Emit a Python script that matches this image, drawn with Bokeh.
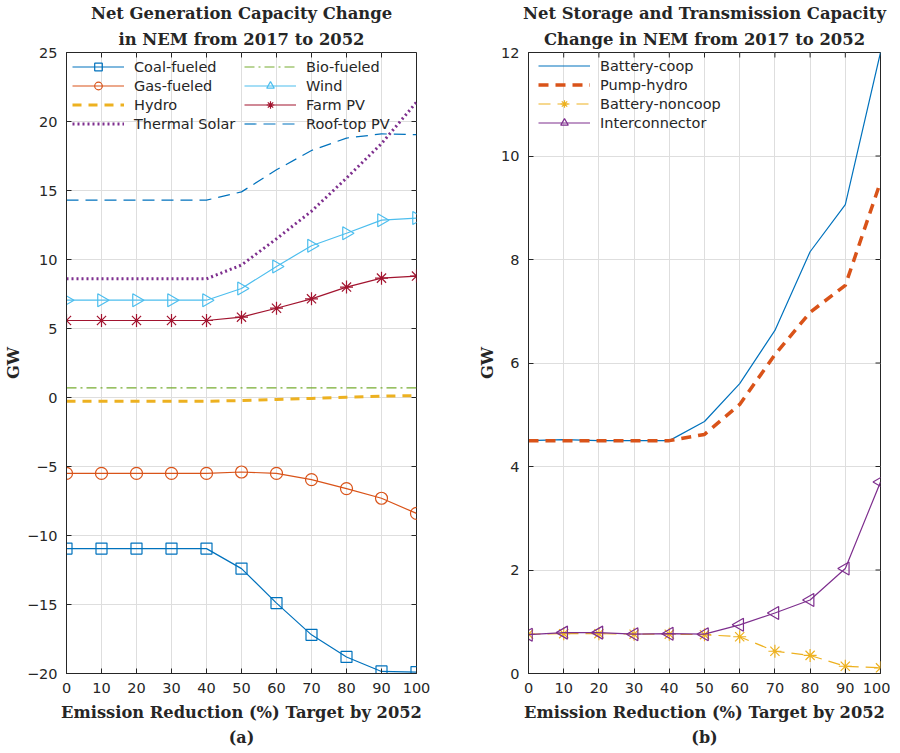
import numpy as np
from bokeh.plotting import figure
from bokeh.models import (Title, FixedTicker, Legend, LegendItem, Range1d)
from bokeh.layouts import row
from bokeh.embed import file_html
from bokeh.resources import INLINE

# ---------------- data ----------------
targets = [0, 10, 20, 30, 40, 50, 60, 70, 80, 90, 100]

coal = [-10.95, -10.95, -10.95, -10.95, -10.95, -12.4, -14.9, -17.2, -18.8, -19.85, -19.9]
gas = [-5.5, -5.5, -5.5, -5.5, -5.5, -5.4, -5.5, -5.95, -6.6, -7.3, -8.4]
hydro = [-0.27, -0.27, -0.27, -0.27, -0.27, -0.22, -0.14, -0.07, 0.02, 0.1, 0.14]
thermal_solar = [8.6, 8.6, 8.6, 8.6, 8.6, 9.6, 11.5, 13.5, 15.9, 18.4, 21.4]
bio = [0.7, 0.7, 0.7, 0.7, 0.7, 0.7, 0.7, 0.7, 0.7, 0.7, 0.7]
wind = [7.05, 7.05, 7.05, 7.05, 7.05, 7.9, 9.5, 11.0, 11.9, 12.85, 13.0]
farm_pv = [5.58, 5.58, 5.58, 5.58, 5.58, 5.82, 6.47, 7.15, 8.0, 8.65, 8.8]
rooftop_pv = [14.3, 14.3, 14.3, 14.3, 14.3, 14.9, 16.5, 17.9, 18.8, 19.1, 19.05]

battery_coop = [4.5, 4.52, 4.5, 4.5, 4.5, 4.87, 5.6, 6.63, 8.15, 9.06, 12.0]
pump_hydro = [4.5, 4.5, 4.5, 4.5, 4.5, 4.62, 5.2, 6.16, 6.98, 7.5, 9.5]
battery_noncoop = [0.76, 0.77, 0.77, 0.76, 0.76, 0.75, 0.71, 0.43, 0.35, 0.14, 0.11]
interconnector = [0.75, 0.79, 0.79, 0.76, 0.77, 0.76, 0.94, 1.17, 1.42, 2.03, 3.70]

x_ticks = [0, 10, 20, 30, 40, 50, 60, 70, 80, 90, 100]
y_ticks_a = [-20, -15, -10, -5, 0, 5, 10, 15, 20, 25]
y_ticks_b = [0, 2, 4, 6, 8, 10, 12]

AX = "#262626"
GRID = "#dedede"
SANS = "DejaVu Sans"
SERIF = "DejaVu Serif"

C_BLUE = "#0072BD"
C_ORANGE = "#D95319"
C_YELLOW = "#EDB120"
C_PURPLE = "#7E2F8E"
C_GREEN = "#77AC30"
C_CYAN = "#4DBEEE"
C_RED = "#A2142F"


def make_fig(fw, xr, yr, yticks, left_border, right_border, title1, title2, sub):
    p = figure(frame_width=fw, frame_height=621, x_range=Range1d(*xr),
               y_range=Range1d(*yr), output_backend="svg", toolbar_location=None,
               title=None, min_border_left=left_border, min_border_right=right_border,
               min_border_top=10, min_border_bottom=10, background_fill_color="white",
               border_fill_color="white")
    p.outline_line_color = AX
    p.outline_line_alpha = 1
    p.outline_line_width = 1
    for ax in [p.xaxis[0], p.yaxis[0]]:
        ax.major_tick_in = 5
        ax.major_tick_out = 0
        ax.minor_tick_in = 0
        ax.minor_tick_out = 0
        ax.axis_line_color = AX
        ax.major_tick_line_color = AX
        ax.major_label_text_color = AX
        ax.major_label_text_font = SANS
        ax.major_label_text_font_size = "14.5px"
        ax.axis_label_text_font = SERIF
        ax.axis_label_text_font_style = "bold"
        ax.axis_label_text_font_size = "16.3px"
        ax.axis_label_text_color = AX
    p.xaxis.ticker = FixedTicker(ticks=x_ticks)
    p.yaxis.ticker = FixedTicker(ticks=yticks)
    p.xaxis.major_label_standoff = 9
    p.yaxis.major_label_standoff = 9
    p.xaxis.axis_label = "Emission Reduction (%) Target by 2052"
    p.xaxis.axis_label_standoff = 7
    p.yaxis.axis_label = "GW"
    p.yaxis.axis_label_standoff = 1
    p.xgrid.ticker = FixedTicker(ticks=x_ticks)
    p.ygrid.ticker = FixedTicker(ticks=yticks)
    for g in [p.xgrid[0], p.ygrid[0]]:
        g.grid_line_color = GRID
        g.grid_line_width = 1
    # box ticks on the top and right edges (inward, no labels)
    p.ray(x=x_ticks, y=[yr[1]] * len(x_ticks), length=5, length_units="screen",
          angle=-np.pi / 2, line_color=AX, line_width=1)
    p.ray(x=[xr[1]] * len(yticks), y=yticks, length=5, length_units="screen",
          angle=np.pi, line_color=AX, line_width=1)
    t2 = Title(text=title2, align="center", text_font=SERIF, text_font_style="bold",
               text_font_size="16.4px", text_color=AX, standoff=8, offset=0)
    t1 = Title(text=title1, align="center", text_font=SERIF, text_font_style="bold",
               text_font_size="16.4px", text_color=AX, standoff=2, offset=0)
    p.add_layout(t2, "above")
    p.add_layout(t1, "above")
    ts = Title(text=sub, align="center", text_font=SERIF, text_font_style="bold",
               text_font_size="16px", text_color=AX, standoff=2, offset=0)
    p.add_layout(ts, "below")
    return p


def make_legend(items, ncols, pad_left, pad_top, label_w):
    return Legend(items=[LegendItem(label=l, renderers=rs) for l, rs in items],
                  location="top_left", ncols=ncols, margin=0,
                  padding=dict(left=pad_left, right=0, top=pad_top, bottom=0), spacing=0,
                  glyph_width=52, glyph_height=19, label_height=19, label_standoff=10,
                  label_width=label_w,
                  label_text_font=SANS, label_text_font_size="14.5px", label_text_color=AX,
                  border_line_alpha=0, background_fill_alpha=0)


lw = 1.2

# ---------------- figure (a) ----------------
p1 = make_fig(350, (0, 100), (-20, 25), y_ticks_a, 62, 40, "Net Generation Capacity Change",
              "in NEM from 2017 to 2052", "(a)")

items1 = []
r = p1.line(targets, coal, color=C_BLUE, line_width=lw)
s = p1.scatter(targets, coal, marker="square", size=11, line_color=C_BLUE, fill_color=None, line_width=lw)
items1.append(("Coal-fueled", [r, s]))
r = p1.line(targets, gas, color=C_ORANGE, line_width=lw)
s = p1.scatter(targets, gas, marker="circle", size=12, line_color=C_ORANGE, fill_color=None, line_width=lw)
items1.append(("Gas-fueled", [r, s]))
r = p1.line(targets, hydro, color=C_YELLOW, line_width=3, line_dash="9 7")
items1.append(("Hydro", [r]))
r = p1.line(targets, thermal_solar, color=C_PURPLE, line_width=3, line_dash="2 3")
items1.append(("Thermal Solar", [r]))
r = p1.line(targets, bio, color=C_GREEN, line_width=lw, line_dash="10 4 2 4")
items1.append(("Bio-fueled", [r]))
r = p1.line(targets, wind, color=C_CYAN, line_width=lw)
s = p1.scatter(targets, wind, marker="triangle", angle=-np.pi / 2, size=13, line_color=C_CYAN,
               fill_color=None, line_width=lw)
items1.append(("Wind", [r, s]))
r = p1.line(targets, farm_pv, color=C_RED, line_width=lw)
s = p1.scatter(targets, farm_pv, marker="asterisk", size=13, line_color=C_RED, line_width=lw)
items1.append(("Farm PV", [r, s]))
r = p1.line(targets, rooftop_pv, color=C_BLUE, line_width=lw, line_dash="12 7")
items1.append(("Roof-top PV", [r]))

p1.add_layout(make_legend(items1, 2, 6, 5, 110), "center")

# ---------------- figure (b) ----------------
p2 = make_fig(352, (0, 100), (0, 12), y_ticks_b, 72, 10, "Net Storage and Transmission Capacity",
              "Change in NEM from 2017 to 2052", "(b)")
items2 = []
r = p2.line(targets, battery_coop, color=C_BLUE, line_width=lw)
items2.append(("Battery-coop", [r]))
r = p2.line(targets, pump_hydro, color=C_ORANGE, line_width=3.5, line_dash="10 7")
items2.append(("Pump-hydro", [r]))
r = p2.line(targets, battery_noncoop, color=C_YELLOW, line_width=lw, line_dash="12 7")
s = p2.scatter(targets, battery_noncoop, marker="asterisk", size=13, line_color=C_YELLOW, line_width=lw)
items2.append(("Battery-noncoop", [r, s]))
r = p2.line(targets, interconnector, color=C_PURPLE, line_width=lw)
s = p2.scatter(targets, interconnector, marker="triangle", angle=np.pi / 2, size=13, line_color=C_PURPLE,
               fill_color=None, line_width=lw)
items2.append(("Interconnector", [r, s]))

p2.add_layout(make_legend(items2, 1, 10, 4, 20), "center")

layout = row(p1, p2)
open("out.html", "w").write(file_html(layout, INLINE))
